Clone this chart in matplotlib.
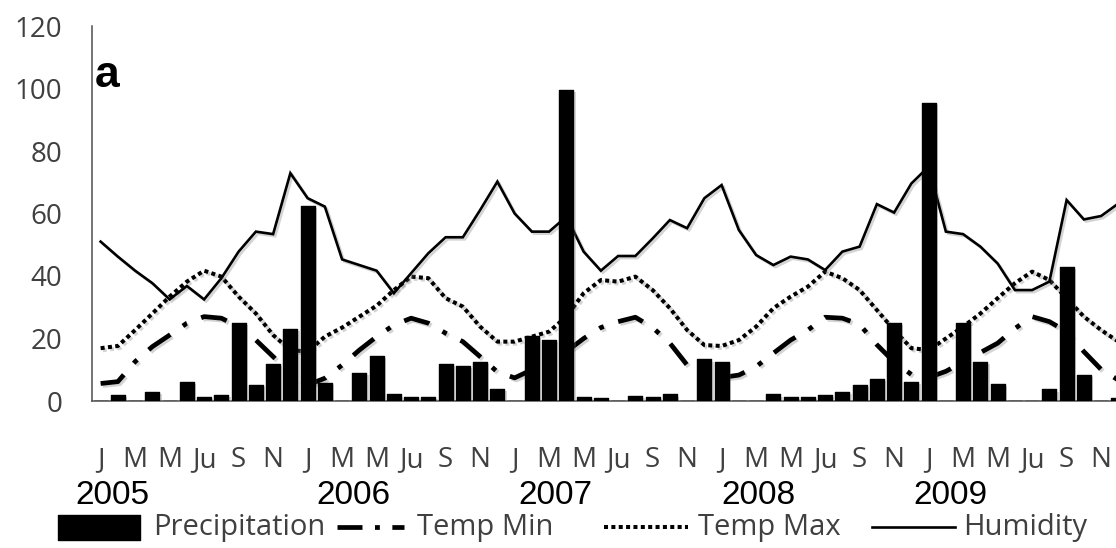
import matplotlib
matplotlib.use('Agg')
import matplotlib.pyplot as plt
import matplotlib.patheffects as pe
from matplotlib.lines import Line2D
from matplotlib.patches import Rectangle

# ---------------- data ----------------
months = list(range(60))  # Jan 2005 .. Dec 2009
month_labels = ['J', 'M', 'M', 'Ju', 'S', 'N'] * 5
years = ['2005', '2006', '2007', '2008', '2009']

precipitation = [0, 1.8, 0, 3, 0, 6, 1.4, 1.9, 25, 5.1, 12, 23.2,
                 62.5, 5.9, 0, 9.1, 14.5, 2.1, 1.2, 1.2, 12, 11.2, 12.6, 4,
                 0, 20.9, 19.5, 99.5, 1.4, 0.9, 0, 1.6, 1.2, 2.1, 0, 13.3,
                 12.6, 0, 0, 2.1, 1.2, 1.2, 1.9, 2.8, 5.1, 7, 24.9, 6,
                 95.3, 0, 24.9, 12.6, 5.6, 0, 0, 3.7, 43, 8.3, 0, 1]

temp_min = [5.6, 6.2, 12.6, 17.4, 21.1, 24.9, 27, 26.5, 23.8, 19.5, 14.2, 8.9,
            5.1, 7.3, 11.5, 16.3, 20.6, 24.3, 26.5, 24.9, 21.7, 19, 14.2, 9.3,
            7.4, 10, 12.5, 15.8, 20, 23.5, 25.4, 26.8, 23.5, 18.5, 11.5, 8.5,
            7.5, 8.3, 11, 15.3, 19.5, 22.7, 26.8, 26.5, 24.5, 18, 12.5, 8.5,
            7.5, 9.5, 12.5, 15.5, 18.5, 23.2, 27, 25.4, 22.2, 15.8, 10.1, 6.7]

temp_max = [16.9, 17.6, 22.7, 28, 33.4, 38.2, 41.7, 39.8, 33.4, 28, 21.1, 16.3,
            15.8, 20.6, 23.5, 27, 30.5, 35.5, 39.8, 39.3, 32.9, 30.2, 23.8, 19,
            19, 20.6, 22.2, 27, 34.5, 38.7, 38.2, 39.8, 35.5, 29.7, 22.7, 17.9,
            17.6, 19.5, 23.8, 29.7, 33.4, 36.6, 41.4, 39.3, 35.5, 29.1, 22.7, 16.9,
            16.3, 20, 23.8, 28, 32.9, 37.7, 41.4, 38.7, 32.9, 27, 22.7, 19]

humidity = [51, 46.2, 41.7, 37.7, 32.5, 36.8, 32.5, 39.3, 47.8, 54.2, 53.4, 72.9,
            64.9, 62.2, 45.3, 43.5, 41.7, 34.5, 40.9, 47.3, 52.4, 52.4, 61.1, 70.2,
            60, 54.2, 54.2, 59, 47.8, 41.7, 46.4, 46.4, 52, 57.9, 55.3, 64.9,
            69.1, 54.7, 46.7, 43.5, 46.2, 45.3, 41.9, 47.8, 49.4, 63, 60.3, 69.6,
            75, 54.2, 53.4, 49.4, 44, 35.5, 35.5, 38.2, 64.3, 58.1, 59.2, 63.2]

yticks = [0, 20, 40, 60, 80, 100, 120]

# ---------------- style ----------------
plt.rcParams['lines.scale_dashes'] = False
W, H = 1116, 548
TXT = '#404040'
UI_FONT = ['Open Sans', 'DejaVu Sans']
ARIAL = ['Liberation Sans', 'DejaVu Sans']

fig = plt.figure(figsize=(W / 100, H / 100), dpi=100)
fig.patch.set_facecolor('white')

# axes: x=-0.5 at px 92, month spacing 17.25 px (extends past the right edge)
ax = fig.add_axes([92 / W, 147 / H, 1035 / W, 375 / H])
ax.set_xlim(-0.5, 59.5)
ax.set_ylim(0, 120)

shadow_line = [pe.SimpleLineShadow(offset=(1.5, -1.5), shadow_color='0.45', alpha=0.3), pe.Normal()]
shadow_patch = [pe.SimplePatchShadow(offset=(1.5, -1.5), shadow_rgbFace='0.45', alpha=0.3), pe.Normal()]

MIN_DASH = (19, 11, 3.5, 11)
MAX_DASH = (2.9, 2.4)

bars = ax.bar(months, precipitation, width=0.82, color='black', edgecolor='black',
              linewidth=1.0, joinstyle='round', zorder=3)
for b in bars:
    b.set_path_effects(shadow_patch)

ax.plot(months, temp_min, color='black', lw=3.4, dashes=MIN_DASH,
        solid_capstyle='butt', dash_capstyle='butt', zorder=2, path_effects=shadow_line)
ax.plot(months, temp_max, color='black', lw=2.9, dashes=MAX_DASH,
        dash_capstyle='butt', zorder=2, path_effects=shadow_line)
ax.plot(months, humidity, color='black', lw=1.9, solid_joinstyle='miter',
        zorder=2, path_effects=shadow_line)

# axes cosmetics
for s in ['top', 'right']:
    ax.spines[s].set_visible(False)
for s in ['left', 'bottom']:
    ax.spines[s].set_color('#505050')
    ax.spines[s].set_linewidth(1.1)

ax.set_yticks(yticks)
ax.set_yticklabels([str(v) for v in yticks])
ax.set_xticks(months[::2])
ax.set_xticklabels(month_labels)
ax.tick_params(axis='y', length=0, pad=21.5, labelcolor=TXT, labelsize=20)
ax.tick_params(axis='x', length=0, pad=32.5, labelcolor=TXT, labelsize=20)
for lab in ax.get_yticklabels() + ax.get_xticklabels():
    lab.set_family(UI_FONT)

# panel letter
fig.text(95 / W, 1 - 87 / H, 'a', family=ARIAL, fontweight='bold', fontsize=32,
         va='baseline', ha='left', color='black')

# year labels (free text boxes)
year_x_px = [112, 353, 555, 758, 950]
for yr, xp in zip(years, year_x_px):
    fig.text(xp / W, 1 - 495 / H, yr, family=ARIAL, fontsize=24,
             ha='center', va='center', color='black')

# legend (drawn in figure pixels)
ly = 1 - 527 / H
def fx(p):
    return p / W

fig.patches.append(Rectangle((fx(58), 1 - 540 / H), 82 / W, 25 / H, transform=fig.transFigure,
                             facecolor='black', edgecolor='black', lw=1, joinstyle='round'))
fig.text(fx(153), ly, 'Precipitation', family=UI_FONT, fontsize=21, color=TXT, va='center', ha='left')

fig.lines.append(Line2D([fx(337), fx(404)], [ly, ly], transform=fig.transFigure, color='black',
                        lw=3.4, dashes=(18, 9, 3.5, 9), dash_capstyle='butt'))
fig.text(fx(417), ly, 'Temp Min', family=UI_FONT, fontsize=21, color=TXT, va='center', ha='left')

fig.lines.append(Line2D([fx(604), fx(688)], [ly, ly], transform=fig.transFigure, color='black',
                        lw=2.9, dashes=MAX_DASH, dash_capstyle='butt'))
fig.text(fx(698), ly, 'Temp Max', family=UI_FONT, fontsize=21, color=TXT, va='center', ha='left')

fig.lines.append(Line2D([fx(872), fx(955)], [ly, ly], transform=fig.transFigure, color='black',
                        lw=1.9))
fig.text(fx(963), ly, 'Humidity', family=UI_FONT, fontsize=21, color=TXT, va='center', ha='left')

fig.savefig('out.png', dpi=100)
